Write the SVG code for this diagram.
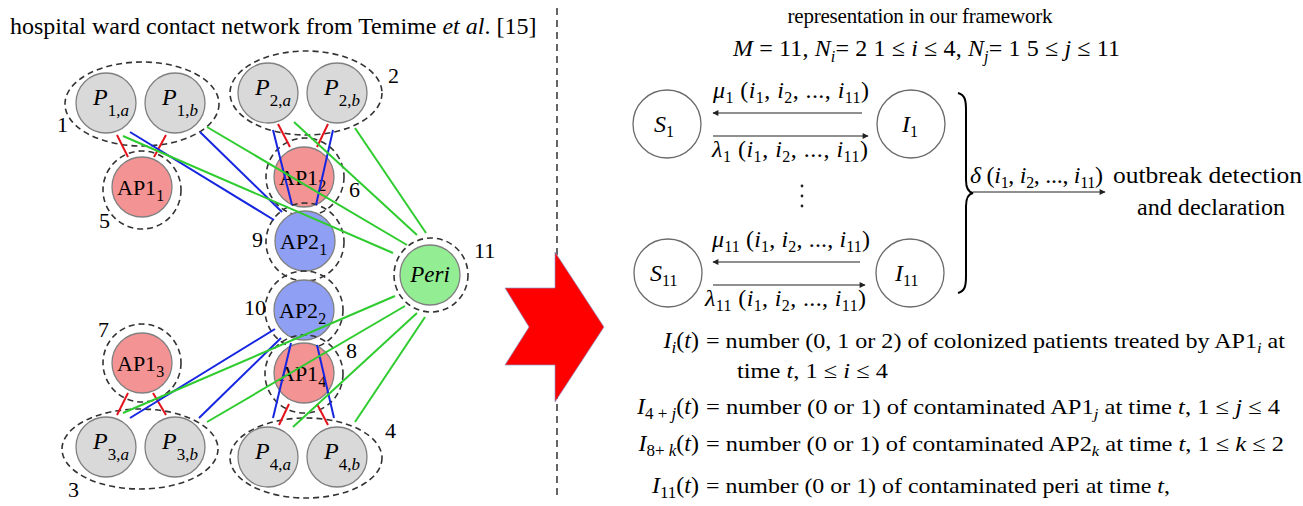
<svg xmlns="http://www.w3.org/2000/svg" width="1303" height="506" viewBox="0 0 1303 506" font-family="'Liberation Serif', Tinos, 'Times New Roman', 'DejaVu Serif', 'Noto Serif', serif">
<style>
.t{font-family:'Liberation Serif',Tinos,'Times New Roman','DejaVu Serif','Noto Serif',serif;fill:#000}
.it{font-style:italic}
.pn{fill:#d9d9d9;stroke:#808080;stroke-width:1.3}
.a1{fill:#f49393;stroke:#808080;stroke-width:1.3}
.a2{fill:#8f9ff3;stroke:#808080;stroke-width:1.3}
.pe{fill:#93ee93;stroke:#808080;stroke-width:1.3}
.dsh{fill:none;stroke:#333;stroke-width:1.6;stroke-dasharray:6 4}
.r{stroke:#e3121b;stroke-width:2}
.b{stroke:#1626e0;stroke-width:2}
.g{stroke:#2fcc2f;stroke-width:2}
.st{fill:#fff;stroke:#6a6a6a;stroke-width:1.3}
.ar{stroke:#222;stroke-width:1.2;fill:none}
</style>
<defs>
<marker id="ah" viewBox="0 0 10 10" refX="9" refY="5" markerWidth="8" markerHeight="6" markerUnits="userSpaceOnUse" orient="auto"><path d="M0,0 L10,5 L0,10 z" fill="#222"/></marker>
</defs>

<text class="t" x="10" y="34" font-size="24">hospital ward contact network from Temime <tspan class="it">et al</tspan>. [15]</text>

<line x1="557" y1="8" x2="557" y2="500" stroke="#333" stroke-width="1.5" stroke-dasharray="7 5"/>
<polygon points="555,252 604,327 555,402 555,365 505,365 529,327 505,288 555,288" fill="#ff0000" stroke="#8899cc" stroke-width="0.7"/>

<g id="group1"><ellipse class="dsh" cx="142" cy="104" rx="77" ry="42"/><text class="t" x="57" y="132" font-size="22">1</text></g>
<g id="group2"><ellipse class="dsh" cx="306" cy="93" rx="76" ry="42"/><text class="t" x="388" y="83" font-size="22">2</text></g>
<g id="group3"><ellipse class="dsh" cx="140" cy="449" rx="78" ry="40"/><text class="t" x="68" y="497" font-size="22">3</text></g>
<g id="group4"><ellipse class="dsh" cx="306" cy="458" rx="76" ry="40"/><text class="t" x="385" y="438" font-size="22">4</text></g>

<g id="P1a"><circle class="pn" cx="106" cy="103" r="30"/><text class="t" x="93" y="105" font-size="24"><tspan class="it">P</tspan><tspan font-size="17" dy="11">1,</tspan><tspan font-size="17" class="it">a</tspan></text></g>
<g id="P1b"><circle class="pn" cx="175" cy="103" r="30"/><text class="t" x="162" y="105" font-size="24"><tspan class="it">P</tspan><tspan font-size="17" dy="11">1,</tspan><tspan font-size="17" class="it">b</tspan></text></g>
<g id="P2a"><circle class="pn" cx="268" cy="93" r="30"/><text class="t" x="255" y="95" font-size="24"><tspan class="it">P</tspan><tspan font-size="17" dy="11">2,</tspan><tspan font-size="17" class="it">a</tspan></text></g>
<g id="P2b"><circle class="pn" cx="337" cy="93" r="30"/><text class="t" x="324" y="95" font-size="24"><tspan class="it">P</tspan><tspan font-size="17" dy="11">2,</tspan><tspan font-size="17" class="it">b</tspan></text></g>
<g id="P3a"><circle class="pn" cx="106" cy="447" r="30"/><text class="t" x="93" y="449" font-size="24"><tspan class="it">P</tspan><tspan font-size="17" dy="11">3,</tspan><tspan font-size="17" class="it">a</tspan></text></g>
<g id="P3b"><circle class="pn" cx="175" cy="447" r="30"/><text class="t" x="162" y="449" font-size="24"><tspan class="it">P</tspan><tspan font-size="17" dy="11">3,</tspan><tspan font-size="17" class="it">b</tspan></text></g>
<g id="P4a"><circle class="pn" cx="268" cy="457" r="30"/><text class="t" x="255" y="459" font-size="24"><tspan class="it">P</tspan><tspan font-size="17" dy="11">4,</tspan><tspan font-size="17" class="it">a</tspan></text></g>
<g id="P4b"><circle class="pn" cx="337" cy="457" r="30"/><text class="t" x="324" y="459" font-size="24"><tspan class="it">P</tspan><tspan font-size="17" dy="11">4,</tspan><tspan font-size="17" class="it">b</tspan></text></g>

<g id="AP1_1"><circle class="dsh" cx="142" cy="190" r="39"/><circle class="a1" cx="142" cy="187" r="30"/><text class="t" x="117" y="195" font-size="22">AP1<tspan font-size="16" dy="6">1</tspan></text><text class="t" x="99" y="228" font-size="22">5</text></g>
<g id="AP1_2"><circle class="dsh" cx="305" cy="177" r="39"/><circle class="a1" cx="304" cy="177" r="30"/><text class="t" x="279" y="185" font-size="22">AP1<tspan font-size="16" dy="6">2</tspan></text><text class="t" x="349" y="197" font-size="22">6</text></g>
<g id="AP2_1"><circle class="dsh" cx="305" cy="242" r="39"/><circle class="a2" cx="305" cy="241" r="30"/><text class="t" x="280" y="249" font-size="22">AP2<tspan font-size="16" dy="6">1</tspan></text><text class="t" x="252" y="247" font-size="22">9</text></g>
<g id="AP2_2"><circle class="dsh" cx="304" cy="310" r="39"/><circle class="a2" cx="304" cy="310" r="30"/><text class="t" x="279" y="318" font-size="22">AP2<tspan font-size="16" dy="6">2</tspan></text><text class="t" x="244" y="315" font-size="22">10</text></g>
<g id="AP1_4"><circle class="dsh" cx="304" cy="374" r="39"/><circle class="a1" cx="304" cy="373" r="30"/><text class="t" x="279" y="381" font-size="22">AP1<tspan font-size="16" dy="6">4</tspan></text><text class="t" x="346" y="358" font-size="22">8</text></g>
<g id="AP1_3"><circle class="dsh" cx="142" cy="363" r="39"/><circle class="a1" cx="142" cy="363" r="30"/><text class="t" x="117" y="371" font-size="22">AP1<tspan font-size="16" dy="6">3</tspan></text><text class="t" x="98" y="337" font-size="22">7</text></g>
<g id="Peri"><circle class="dsh" cx="431" cy="275" r="37"/><circle class="pe" cx="430" cy="275" r="30"/><text class="t it" x="430" y="282" font-size="23" text-anchor="middle">Peri</text><text class="t" x="474" y="258" font-size="22">11</text></g>

<g id="connectors">
<line class="r" x1="117" y1="135" x2="128" y2="157"/>
<line class="r" x1="166" y1="135" x2="154" y2="157"/>
<line class="r" x1="278" y1="124" x2="290" y2="147"/>
<line class="r" x1="328" y1="124" x2="317" y2="147"/>
<line class="r" x1="128" y1="393" x2="117" y2="415"/>
<line class="r" x1="153" y1="393" x2="166" y2="415"/>
<line class="r" x1="289" y1="404" x2="279" y2="425"/>
<line class="r" x1="317" y1="404" x2="328" y2="425"/>
<line class="b" x1="130" y1="132" x2="274" y2="220"/>
<line class="b" x1="200" y1="132" x2="282" y2="212"/>
<line class="b" x1="273" y1="130" x2="292" y2="205"/>
<line class="b" x1="333" y1="130" x2="316" y2="205"/>
<line class="b" x1="275" y1="329" x2="130" y2="418"/>
<line class="b" x1="281" y1="338" x2="199" y2="418"/>
<line class="b" x1="291" y1="343" x2="273" y2="418"/>
<line class="b" x1="317" y1="345" x2="334" y2="418"/>
<line class="g" x1="123" y1="136" x2="393" y2="253"/>
<line class="g" x1="207" y1="127" x2="407" y2="245"/>
<line class="g" x1="294" y1="122" x2="417" y2="235"/>
<line class="g" x1="355" y1="128" x2="426" y2="233"/>
<line class="g" x1="395" y1="296" x2="123" y2="413"/>
<line class="g" x1="405" y1="306" x2="207" y2="422"/>
<line class="g" x1="417" y1="313" x2="293" y2="427"/>
<line class="g" x1="425" y1="317" x2="355" y2="422"/>
</g>

<text class="t" x="920" y="23" font-size="21" text-anchor="middle" textLength="265" lengthAdjust="spacing">representation in our framework</text>
<text class="t" x="733" y="56" font-size="24" textLength="387" lengthAdjust="spacing"><tspan class="it">M</tspan> = 11, <tspan class="it">N</tspan><tspan class="it" font-size="16" dy="6">i</tspan><tspan dy="-6">= 2 1 ≤ </tspan><tspan class="it">i</tspan> ≤ 4, <tspan class="it">N</tspan><tspan class="it" font-size="16" dy="6">j</tspan><tspan dy="-6">= 1 5 ≤ </tspan><tspan class="it">j</tspan> ≤ 11</text>

<g id="S1"><circle class="st" cx="667" cy="124" r="34"/><text class="t" x="654" y="132" font-size="24"><tspan class="it">S</tspan><tspan font-size="16" dy="5">1</tspan></text></g>
<g id="I1"><circle class="st" cx="911" cy="124" r="34"/><text class="t" x="902" y="132" font-size="24"><tspan class="it">I</tspan><tspan font-size="16" dy="5">1</tspan></text></g>
<g id="S11"><circle class="st" cx="668" cy="273" r="34"/><text class="t" x="650" y="281" font-size="24"><tspan class="it">S</tspan><tspan font-size="16" dy="5">11</tspan></text></g>
<g id="I11"><circle class="st" cx="910" cy="273" r="34"/><text class="t" x="895" y="281" font-size="24"><tspan class="it">I</tspan><tspan font-size="16" dy="5">11</tspan></text></g>

<g id="transitions">
<line class="ar" x1="862" y1="113" x2="713" y2="113" marker-end="url(#ah)"/>
<line class="ar" x1="713" y1="136" x2="868" y2="136" marker-end="url(#ah)"/>
<line class="ar" x1="860" y1="262" x2="713" y2="262" marker-end="url(#ah)"/>
<line class="ar" x1="713" y1="285" x2="865" y2="285" marker-end="url(#ah)"/>
<line class="ar" x1="973" y1="192" x2="1105" y2="192" marker-end="url(#ah)"/>
<path d="M958,93 C965,95 966,100 966,110 L966,180 C966,188 968,192 973,193 C968,194 966,198 966,206 L966,276 C966,286 965,291 958,293" fill="none" stroke="#000" stroke-width="2"/>
</g>

<text class="t" x="713" y="98" font-size="24" textLength="156" lengthAdjust="spacing"><tspan class="it">μ</tspan><tspan font-size="16" dy="5">1</tspan><tspan dy="-5"> (</tspan><tspan class="it">i</tspan><tspan font-size="16" dy="5">1</tspan><tspan dy="-5">, </tspan><tspan class="it">i</tspan><tspan font-size="16" dy="5">2</tspan><tspan dy="-5">, ..., </tspan><tspan class="it">i</tspan><tspan font-size="16" dy="5">11</tspan><tspan dy="-5">)</tspan></text>
<text class="t" x="712" y="157" font-size="24" textLength="156" lengthAdjust="spacing"><tspan class="it">λ</tspan><tspan font-size="16" dy="5">1</tspan><tspan dy="-5"> (</tspan><tspan class="it">i</tspan><tspan font-size="16" dy="5">1</tspan><tspan dy="-5">, </tspan><tspan class="it">i</tspan><tspan font-size="16" dy="5">2</tspan><tspan dy="-5">, ..., </tspan><tspan class="it">i</tspan><tspan font-size="16" dy="5">11</tspan><tspan dy="-5">)</tspan></text>
<text class="t" x="712" y="247" font-size="24" textLength="158" lengthAdjust="spacing"><tspan class="it">μ</tspan><tspan font-size="16" dy="5">11</tspan><tspan dy="-5"> (</tspan><tspan class="it">i</tspan><tspan font-size="16" dy="5">1</tspan><tspan dy="-5">, </tspan><tspan class="it">i</tspan><tspan font-size="16" dy="5">2</tspan><tspan dy="-5">, ..., </tspan><tspan class="it">i</tspan><tspan font-size="16" dy="5">11</tspan><tspan dy="-5">)</tspan></text>
<text class="t" x="705" y="306" font-size="24" textLength="161" lengthAdjust="spacing"><tspan class="it">λ</tspan><tspan font-size="16" dy="5">11</tspan><tspan dy="-5"> (</tspan><tspan class="it">i</tspan><tspan font-size="16" dy="5">1</tspan><tspan dy="-5">, </tspan><tspan class="it">i</tspan><tspan font-size="16" dy="5">2</tspan><tspan dy="-5">, ..., </tspan><tspan class="it">i</tspan><tspan font-size="16" dy="5">11</tspan><tspan dy="-5">)</tspan></text>
<g fill="#222"><circle cx="802" cy="186" r="1.4"/><circle cx="802" cy="196" r="1.4"/><circle cx="802" cy="206" r="1.4"/></g>

<text class="t" x="970" y="183" font-size="24" textLength="133" lengthAdjust="spacing"><tspan class="it">δ</tspan> (<tspan class="it">i</tspan><tspan font-size="16" dy="5">1</tspan><tspan dy="-5">, </tspan><tspan class="it">i</tspan><tspan font-size="16" dy="5">2</tspan><tspan dy="-5">, ..., </tspan><tspan class="it">i</tspan><tspan font-size="16" dy="5">11</tspan><tspan dy="-5">)</tspan></text>
<text class="t" x="1113" y="183" font-size="23" textLength="189" lengthAdjust="spacingAndGlyphs">outbreak detection</text>
<text class="t" x="1211" y="215" font-size="23" text-anchor="middle" textLength="148" lengthAdjust="spacingAndGlyphs">and declaration</text>

<text class="t" x="699" y="348" font-size="24" text-anchor="end"><tspan class="it">I</tspan><tspan class="it" font-size="17" dy="5">i</tspan><tspan dy="-5">(</tspan><tspan class="it">t</tspan>)</text>
<text class="t" x="706" y="348" font-size="22" textLength="579" lengthAdjust="spacingAndGlyphs">= number (0, 1 or 2) of colonized patients treated by AP1<tspan class="it" font-size="15" dy="5">i</tspan><tspan dy="-5"> at</tspan></text>
<text class="t" x="737" y="378" font-size="22" textLength="151" lengthAdjust="spacingAndGlyphs">time <tspan class="it">t</tspan>, 1 ≤ <tspan class="it">i</tspan> ≤ 4</text>
<text class="t" x="699" y="414" font-size="24" text-anchor="end"><tspan class="it">I</tspan><tspan font-size="17" dy="5">4 + </tspan><tspan class="it" font-size="17">j</tspan><tspan dy="-5">(</tspan><tspan class="it">t</tspan>)</text>
<text class="t" x="706" y="414" font-size="22" textLength="574" lengthAdjust="spacingAndGlyphs">= number (0 or 1) of contaminated AP1<tspan class="it" font-size="15" dy="5">j</tspan><tspan dy="-5"> at time </tspan><tspan class="it">t</tspan>, 1 ≤ <tspan class="it">j</tspan> ≤ 4</text>
<text class="t" x="699" y="451" font-size="24" text-anchor="end"><tspan class="it">I</tspan><tspan font-size="17" dy="5">8+ </tspan><tspan class="it" font-size="17">k</tspan><tspan dy="-5">(</tspan><tspan class="it">t</tspan>)</text>
<text class="t" x="706" y="451" font-size="22" textLength="578" lengthAdjust="spacingAndGlyphs">= number (0 or 1) of contaminated AP2<tspan class="it" font-size="15" dy="5">k</tspan><tspan dy="-5"> at time </tspan><tspan class="it">t</tspan>, 1 ≤ <tspan class="it">k</tspan> ≤ 2</text>
<text class="t" x="699" y="493" font-size="24" text-anchor="end"><tspan class="it">I</tspan><tspan font-size="17" dy="5">11</tspan><tspan dy="-5">(</tspan><tspan class="it">t</tspan>)</text>
<text class="t" x="706" y="493" font-size="22" textLength="464" lengthAdjust="spacingAndGlyphs">= number (0 or 1) of contaminated peri at time <tspan class="it">t</tspan>,</text>
</svg>
